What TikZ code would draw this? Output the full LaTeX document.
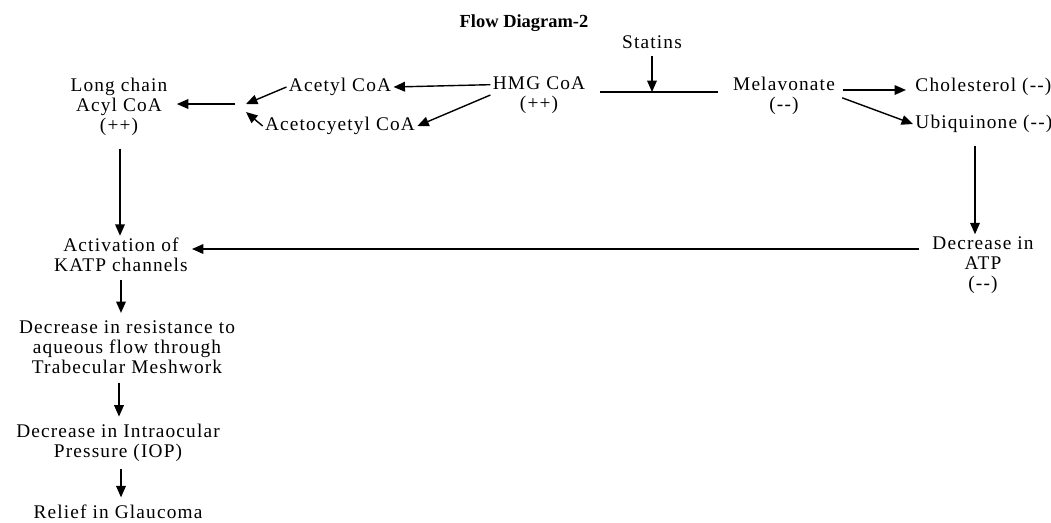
\documentclass[tikz,border=0pt]{standalone}
\usepackage{fontspec}
\setmainfont{Liberation Serif}
\newfontfamily\spacedfont[LetterSpace=6]{Liberation Serif}
\usetikzlibrary{arrows.meta}

\begin{document}
\begin{tikzpicture}[x=0.02cm, y=-0.02cm, line width=0.8pt,
  every node/.style={font=\spacedfont\fontsize{11}{11.3}\selectfont, align=center, inner sep=1pt},
  arr/.style={-{Triangle[length=6.5pt,width=5.5pt]}}]
  \useasboundingbox (0,0) rectangle (1051,522);
  % title and inhibitor
  \node[font=\bfseries\fontsize{10.5}{12}\selectfont] (title) at (524,23) {Flow Diagram-2};
  \node (statins) at (652,42) {Statins};
  % top row
  \node (hmg) at (539,95) {HMG CoA\\(++)};
  \node (mel) at (784,96) {Melavonate\\(-{}-)};
  \node[anchor=west] (chol) at (913,87) {Cholesterol (-{}-)};
  \node[anchor=west] (ubi) at (913,124) {Ubiquinone (-{}-)};
  \node (acetyl) at (340,87) {Acetyl CoA};
  \node (aceto) at (340,126) {Acetocyetyl CoA};
  \node (lcoa) at (119,107) {Long chain\\Acyl CoA\\(++)};
  % right and left columns
  \node (atp) at (983,265) {Decrease in\\ATP\\(-{}-)};
  \node (act) at (121,255) {Activation of\\KATP channels};
  \node (res) at (127,347) {Decrease in resistance to\\aqueous flow through\\Trabecular Meshwork};
  \node (iop) at (118,443) {Decrease in Intraocular\\Pressure (IOP)};
  \node (relief) at (118,512) {Relief in Glaucoma};
  % junction points
  \coordinate (block) at (652,92);
  \coordinate (mergeA) at (246,104);
  \coordinate (mergeB) at (246,112);
  \coordinate (merge) at (235,104);
  \coordinate (atpline) at (0,249);
  % connectors
  \draw[arr, shorten <=3pt] (statins) -- (block);
  \draw[shorten <=7pt, shorten >=7pt] (hmg.east |- block) -- (mel.west |- block);
  \draw[arr, shorten <=3pt, shorten >=4pt] (mel.east |- 0,90) -- (chol.west |- 0,90);
  \draw[arr, shorten <=3pt] (mel.east) -- (ubi.west);
  \draw[arr] (hmg.168) -- (acetyl.east);
  \draw[arr] (hmg.west) -- (aceto.east);
  \draw[arr] (acetyl.west) -- (mergeA);
  \draw[arr] (aceto.west) -- (mergeB);
  \draw[arr, shorten >=4pt] (merge) -- (lcoa.east |- merge);
  \draw[arr, shorten <=6pt] (lcoa.south -| 120,0) -- (act.north -| 120,0);
  \draw[arr, shorten <=6pt] (ubi.south -| 975,0) -- (atp.north -| 975,0);
  \draw[arr, shorten <=6pt, shorten >=1pt] (atp.west |- atpline) -- (act.east |- atpline);
  \draw[arr, shorten <=3pt, shorten >=3pt] (act.south -| 121,0) -- (res.north -| 121,0);
  \draw[arr, shorten <=4pt, shorten >=3pt] (res.south -| 119,0) -- (iop.north -| 119,0);
  \draw[arr, shorten <=3pt, shorten >=3pt] (iop.south -| 121,0) -- (relief.north -| 121,0);
\end{tikzpicture}
\end{document}
